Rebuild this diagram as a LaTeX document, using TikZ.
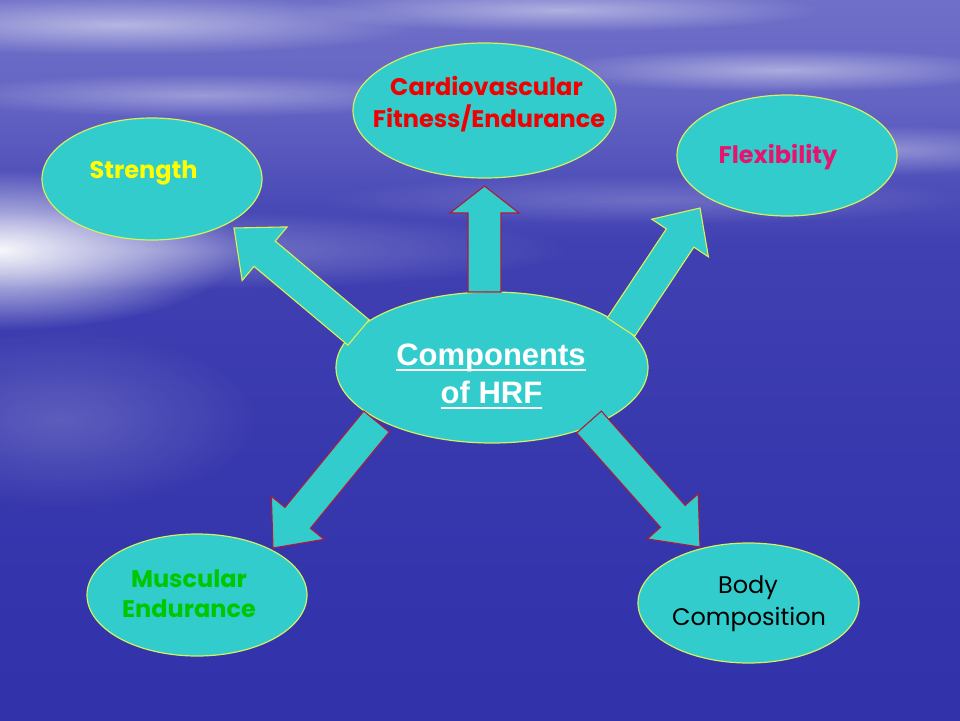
\documentclass[tikz,border=0pt]{standalone}
\usepackage{fontspec}
\setmainfont{Liberation Sans}
\newfontfamily\comic{Poppins}
\usetikzlibrary{calc,fadings,shapes.geometric}
\definecolor{tealfill}{HTML}{33CCCC}
\definecolor{ellline}{HTML}{D4F060}
\definecolor{redline}{HTML}{B0183C}
\definecolor{yelline}{HTML}{E0F050}
\definecolor{txtred}{HTML}{F00000}
\definecolor{txtyellow}{HTML}{FFFF00}
\definecolor{txtpink}{HTML}{E6146E}
\definecolor{txtgreen}{HTML}{00C800}
\definecolor{bgA}{HTML}{2C2CA6}
\definecolor{bgB}{HTML}{3434AC}
\definecolor{bgC}{HTML}{4040B2}
\definecolor{bgD}{HTML}{6464C4}
\definecolor{bgE}{HTML}{7F80CE}
\definecolor{bgF}{HTML}{9494D8}
\pgfdeclareverticalshading{bgshade}{100bp}{color(0bp)=(bgA); color(35bp)=(bgB); color(58bp)=(bgC); color(68bp)=(bgD); color(85bp)=(bgE); color(100bp)=(bgF)}
\tikzfading[name=glowfade, inner color=transparent!0, outer color=transparent!100]
\newsavebox{\ulsave}
\newcommand\ulbox[1]{\sbox{\ulsave}{#1}\rlap{\rule[-6pt]{\wd\ulsave}{2.5pt}}\usebox{\ulsave}}
% block arrow: style, tail, tip, head-base name, half shaft, half head, head length
\newcommand\blockarrow[7]{%
  \coordinate (#4) at ($(#3)!#7!(#2)$);
  \draw[#1] ($(#2)!#5!90:(#3)$) -- ($(#4)!#5!90:(#3)$) -- ($(#4)!#6!90:(#3)$)
    -- (#3) -- ($(#4)!#6!-90:(#3)$) -- ($(#4)!#5!-90:(#3)$) -- ($(#2)!#5!-90:(#3)$) -- cycle;}
\begin{document}
\begin{tikzpicture}[x=1pt,y=-1pt,
  oval/.style={ellipse, fill=tealfill, draw=ellline, line width=1.2pt, inner sep=0pt},
  redarrow/.style={fill=tealfill, draw=redline, line width=1.1pt, line join=miter},
  yelarrow/.style={fill=tealfill, draw=yelline, line width=1.1pt, line join=miter},
  lbl/.style={anchor=base, inner sep=0pt, font=\comic\bfseries\fontsize{24}{28}\selectfont},
  hrf/.style={anchor=base, inner sep=0pt, text=white, font=\bfseries\fontsize{31}{36}\selectfont},
  cloud/.style={white, path fading=glowfade}]
\useasboundingbox (0,0) rectangle (960,720);
% background
\shade[shading=bgshade] (0,0) rectangle (960,720);
\begin{scope}
\clip (0,0) rectangle (960,720);
\fill[cloud, opacity=0.95] (0,250) ellipse [x radius=240pt, y radius=80pt];
\fill[cloud, opacity=0.3] (150,250) ellipse [x radius=420pt, y radius=40pt];
\fill[cloud, opacity=0.5] (120,25) ellipse [x radius=300pt, y radius=30pt];
\fill[cloud, opacity=0.45] (560,10) ellipse [x radius=260pt, y radius=22pt];
\fill[cloud, opacity=0.45] (780,70) ellipse [x radius=240pt, y radius=22pt];
\fill[cloud, opacity=0.35] (880,150) ellipse [x radius=200pt, y radius=25pt];
\fill[cloud, opacity=0.35] (200,95) ellipse [x radius=260pt, y radius=22pt];
\fill[cloud, opacity=0.2] (650,200) ellipse [x radius=330pt, y radius=25pt];
\fill[cloud, opacity=0.18] (60,420) ellipse [x radius=200pt, y radius=90pt];
\end{scope}
% ellipses
\node[oval, minimum width=220pt, minimum height=122pt] (strength) at (152,179) {};
\node[oval, minimum width=263pt, minimum height=135pt] (cardio) at (484.5,110.5) {};
\node[oval, minimum width=220pt, minimum height=121pt] (flex) at (787,155.5) {};
\node[oval, minimum width=220pt, minimum height=122pt] (musc) at (197,595) {};
\node[oval, minimum width=221pt, minimum height=120pt] (body) at (748.5,603) {};
\node[oval, minimum width=312pt, minimum height=151pt] (hrf) at (492,367.5) {};
% arrows
\coordinate (sT) at (358.5,332.5); \coordinate (sP) at (234,228);
\coordinate (fT) at (621,327);     \coordinate (fP) at (700,208);
\coordinate (uT) at (484.5,292);   \coordinate (uP) at (484.5,186);
\coordinate (mT) at (376.5,421.5); \coordinate (mP) at (273,548);
\coordinate (bT) at (589,422);     \coordinate (bP) at (700,547);
\blockarrow{yelarrow}{sT}{sP}{sH}{16.5pt}{35pt}{40pt}
\blockarrow{yelarrow}{fT}{fP}{fH}{16.5pt}{34pt}{36pt}
\blockarrow{redarrow}{uT}{uP}{uH}{16.5pt}{34.5pt}{27pt}
\blockarrow{redarrow}{mT}{mP}{mH}{16.5pt}{34pt}{39pt}
\blockarrow{redarrow}{bT}{bP}{bH}{16.5pt}{34pt}{41pt}
% labels
\node[lbl, text=txtyellow] (tstrength) at (143.5,178) {Strength};
\node[lbl, text=txtred] (tcardio1) at (486.5,95) {Cardiovascular};
\node[lbl, text=txtred] (tcardio2) at (489,127) {Fitness/Endurance};
\node[lbl, text=txtpink] (tflex) at (778,163) {Flexibility};
\node[lbl, text=txtgreen] (tmusc1) at (189,587) {Muscular};
\node[lbl, text=txtgreen] (tmusc2) at (189,617) {Endurance};
\node[lbl, text=black, font=\comic\fontsize{24}{28}\selectfont] (tbody1) at (748,593) {Body};
\node[lbl, text=black, font=\comic\fontsize{24}{28}\selectfont] (tbody2) at (749,625) {Composition};
\node[hrf] (thrf1) at (491,365) {\ulbox{Components}};
\node[hrf] (thrf2) at (491.5,403) {\ulbox{of HRF}};
\end{tikzpicture}
\end{document}
